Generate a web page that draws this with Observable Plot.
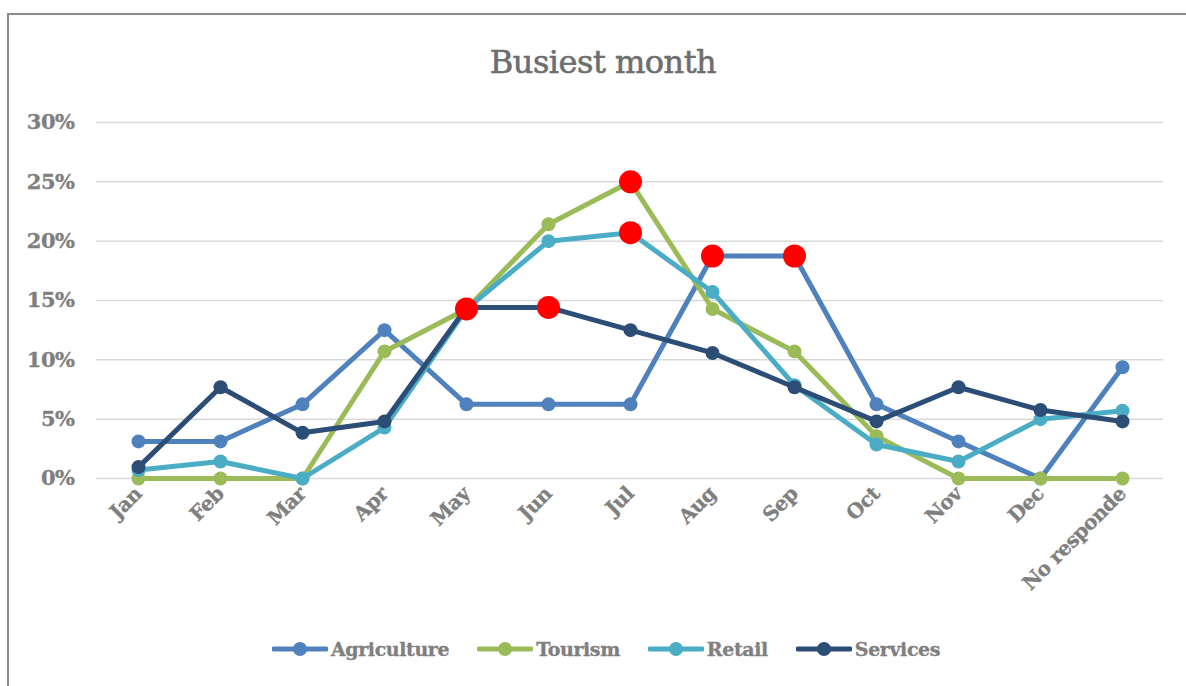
<!DOCTYPE html>
<html>
<head>
<meta charset="utf-8">
<script src="https://cdn.jsdelivr.net/npm/d3@7"></script>
<script src="https://cdn.jsdelivr.net/npm/@observablehq/plot@0.6"></script>
<style>
  html, body { margin: 0; padding: 0; background: #fff; }
  #page { position: relative; width: 1186px; height: 686px; overflow: hidden; background: #fff; }
  #frame { position: absolute; left: 7px; top: 13px; width: 1300px; height: 800px; border: 2px solid #8c8c8c; box-sizing: border-box; }
  #title { position: absolute; left: 0; width: 1206px; top: 43px; text-align: center; font-family: "DejaVu Serif", serif; font-size: 32px; color: #6e6e6e; letter-spacing: -0.5px; -webkit-text-stroke: 0.6px #6e6e6e; }
  #chart { position: absolute; left: 0; top: 90px; }
  #chart text { stroke: #7f7f7f; stroke-width: 0.35px; }
  #legend { position: absolute; left: 272px; top: 638px; display: flex; align-items: center; gap: 28px; font-family: "DejaVu Serif", serif; font-weight: bold; font-size: 19px; letter-spacing: -0.4px; color: #7f7f7f; -webkit-text-stroke: 0.35px #7f7f7f; }
  .item { display: flex; align-items: center; gap: 3px; }
</style>
</head>
<body>
<div id="page">
  <div id="frame"></div>
  <div id="title">Busiest month</div>
  <div id="chart"></div>
  <div id="legend"></div>
</div>
<script>
const months = ["Jan", "Feb", "Mar", "Apr", "May", "Jun", "Jul", "Aug", "Sep", "Oct", "Nov", "Dec", "No responde"];
const seriesNames = ["Agriculture", "Tourism", "Retail", "Services"];
const seriesColors = ["#4f81bd", "#9bbb59", "#4bacc6", "#2c4d75"];
const agriculture = [3.125, 3.125, 6.25, 12.5, 6.25, 6.25, 6.25, 18.75, 18.75, 6.25, 3.125, 0, 9.375];
const tourism = [0, 0, 0, 10.71, 14.29, 21.43, 25, 14.29, 10.71, 3.57, 0, 0, 0];
const retail = [0.71, 1.43, 0, 4.29, 14.29, 20, 20.71, 15.71, 7.86, 2.86, 1.43, 5, 5.71];
const services = [0.96, 7.69, 3.85, 4.81, 14.42, 14.42, 12.5, 10.58, 7.69, 4.81, 7.69, 5.77, 4.81];
const yTicks = [0, 5, 10, 15, 20, 25, 30];
const highlights = [["Retail", "May"], ["Services", "Jun"], ["Tourism", "Jul"], ["Retail", "Jul"], ["Agriculture", "Aug"], ["Agriculture", "Sep"]];

const seriesValues = [agriculture, tourism, retail, services];
const data = [];
seriesNames.forEach((s, i) => months.forEach((m, j) => data.push({series: s, month: m, value: seriesValues[i][j]})));
const hiData = highlights.map(([s, m]) => data.find(d => d.series === s && d.month === m));

const marks = [
  Plot.gridY(yTicks, {stroke: "#d9d9d9", strokeOpacity: 1, strokeWidth: 1.5}),
  Plot.axisY({ticks: yTicks, tickSize: 0, tickPadding: 22, tickFormat: d => d + "%", label: null, fontSize: 21}),
  Plot.axisX({tickRotate: -45, tickSize: 0, tickPadding: 12, label: null, fontSize: 20})
];
seriesNames.forEach((s, i) => {
  const sd = data.filter(d => d.series === s);
  marks.push(Plot.line(sd, {x: "month", y: "value", stroke: seriesColors[i], strokeWidth: 5, strokeLinejoin: "round"}));
  marks.push(Plot.dot(sd, {x: "month", y: "value", r: 7, fill: seriesColors[i], stroke: "none"}));
});
marks.push(Plot.dot(hiData, {x: "month", y: "value", r: 11.5, fill: "#ff0000", stroke: "none"}));

const chart = Plot.plot({
  width: 1186,
  height: 530,
  marginLeft: 96,
  marginRight: 23,
  marginTop: 32,
  marginBottom: 142,
  style: {fontFamily: "DejaVu Serif, serif", fontWeight: "bold", color: "#7f7f7f", background: "transparent", overflow: "visible", letterSpacing: "-0.5px"},
  x: {type: "point", domain: months, padding: 0.5},
  y: {domain: [0, 30]},
  marks
});
document.getElementById("chart").appendChild(chart);

const legend = document.getElementById("legend");
seriesNames.forEach((s, i) => {
  const item = document.createElement("div");
  item.className = "item";
  item.innerHTML = `<svg width="56" height="16"><line x1="2" y1="8" x2="54" y2="8" stroke="${seriesColors[i]}" stroke-width="5" stroke-linecap="round"/><circle cx="28" cy="8" r="7" fill="${seriesColors[i]}"/></svg><span>${s}</span>`;
  legend.appendChild(item);
});
</script>
</body>
</html>
